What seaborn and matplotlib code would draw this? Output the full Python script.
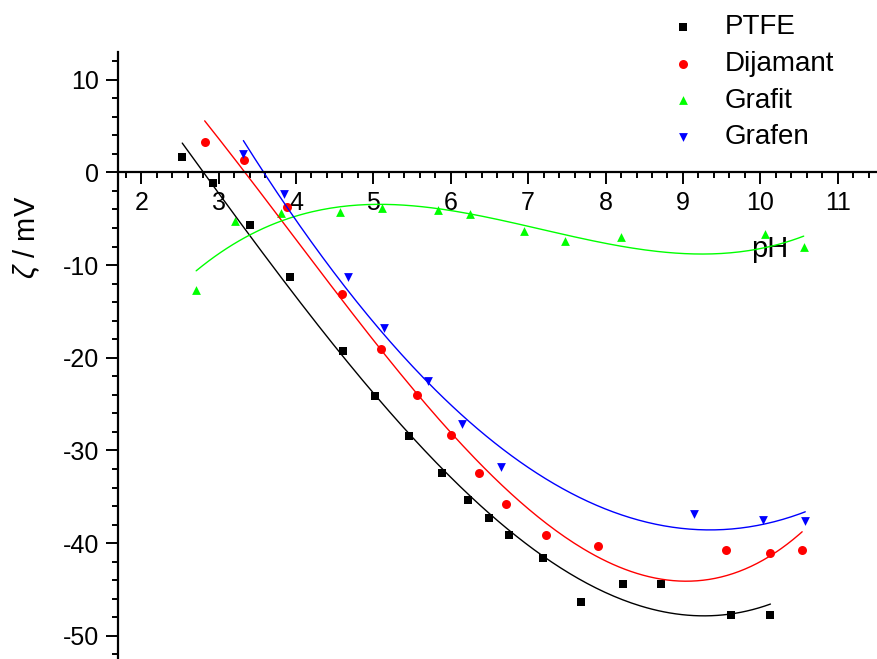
import numpy as np
import pandas as pd
import matplotlib
matplotlib.use('Agg')
import matplotlib.pyplot as plt
from matplotlib.ticker import MultipleLocator
import seaborn as sns

# zeta potential vs pH
ph_ptfe = [2.53, 2.93, 3.40, 3.92, 4.61, 5.02, 5.46, 5.88, 6.22, 6.49, 6.75, 7.19, 7.68, 8.23, 8.72, 9.62, 10.13]
zeta_ptfe = [1.7, -1.2, -5.7, -11.3, -19.3, -24.1, -28.4, -32.4, -35.4, -37.3, -39.1, -41.6, -46.3, -44.4, -44.4, -47.7, -47.8]

ph_dijamant = [2.82, 3.33, 3.89, 4.59, 5.10, 5.56, 6.00, 6.37, 6.71, 7.23, 7.90, 9.55, 10.12, 10.54]
zeta_dijamant = [3.3, 1.3, -3.7, -13.1, -19.1, -24.0, -28.3, -32.4, -35.8, -39.1, -40.3, -40.7, -41.1, -40.7]

ph_grafit = [2.71, 3.21, 3.80, 4.57, 5.11, 5.83, 6.25, 6.95, 7.47, 8.20, 10.06, 10.56]
zeta_grafit = [-12.7, -5.2, -4.4, -4.3, -3.8, -4.1, -4.5, -6.3, -7.4, -7.0, -6.7, -8.1]

ph_grafen = [3.32, 3.85, 4.67, 5.14, 5.71, 6.14, 6.65, 9.14, 10.03, 10.58]
zeta_grafen = [2.0, -2.3, -11.3, -16.8, -22.5, -27.2, -31.8, -36.9, -37.5, -37.6]

names = ['PTFE', 'Dijamant', 'Grafit', 'Grafen']
colors = ['#000000', '#ff0000', '#00ff00', '#0000ff']
markers = ['s', 'o', '^', 'v']
sizes = [28, 42, 40, 40]

series = [(ph_ptfe, zeta_ptfe), (ph_dijamant, zeta_dijamant),
          (ph_grafit, zeta_grafit), (ph_grafen, zeta_grafen)]

sns.set_style('ticks')
plt.rcParams['font.family'] = ['Liberation Sans', 'DejaVu Sans']
plt.rcParams['mathtext.fontset'] = 'custom'
plt.rcParams['mathtext.it'] = 'Liberation Sans:italic'
plt.rcParams['mathtext.rm'] = 'Liberation Sans'
plt.rcParams['axes.unicode_minus'] = False
plt.rcParams['text.color'] = 'black'
plt.rcParams['axes.labelcolor'] = 'black'
plt.rcParams['xtick.color'] = 'black'
plt.rcParams['ytick.color'] = 'black'
plt.rcParams['axes.edgecolor'] = 'black'

fig = plt.figure(figsize=(8.78, 6.59), dpi=100)
ax = fig.add_axes([0.1344, 0.0, 0.8656, 0.921])

for (x, y), name, c, m, s in zip(series, names, colors, markers, sizes):
    df = pd.DataFrame({'pH': x, 'zeta': y})
    # cubic polynomial fit like the original
    coef = np.polyfit(df['pH'], df['zeta'], 3)
    xf = np.linspace(df['pH'].min(), df['pH'].max(), 200)
    fit = pd.DataFrame({'pH': xf, 'zeta': np.polyval(coef, xf)})
    sns.lineplot(data=fit, x='pH', y='zeta', color=c, linewidth=1.0, ax=ax, legend=False)
    sns.scatterplot(data=df, x='pH', y='zeta', color=c, marker=m, s=s,
                    linewidth=0, ax=ax, label=name)

ax.set_xlim(1.70, 11.52)
ax.set_ylim(-52.5, 12.98)

ax.spines['top'].set_visible(False)
ax.spines['right'].set_visible(False)
ax.spines['bottom'].set_position(('data', 0))
ax.spines['left'].set_linewidth(1.6)
ax.spines['bottom'].set_linewidth(1.6)

ax.xaxis.set_major_locator(MultipleLocator(1))
ax.xaxis.set_minor_locator(MultipleLocator(0.2))
ax.yaxis.set_major_locator(MultipleLocator(10))
ax.yaxis.set_minor_locator(MultipleLocator(2))
ax.tick_params(which='major', direction='out', length=8.6, width=1.4, labelsize=18, pad=5)
ax.tick_params(which='minor', direction='out', length=4.3, width=1.4)

ax.set_xlabel('pH', fontsize=21)
ax.xaxis.set_label_coords(0.858, 0.675)
ax.xaxis.label.set_va('center')
ax.set_ylabel(r'$\zeta$ / mV', fontsize=21)
ax.yaxis.set_label_coords(-0.12, 0.694)
ax.yaxis.label.set_va('center')

ax.legend(loc='upper left', bbox_to_anchor=(0.762, 0.978), bbox_transform=fig.transFigure,
          frameon=False, fontsize=20, handlelength=1.0, handletextpad=1.0,
          labelspacing=0.38, borderpad=0, borderaxespad=0)

fig.savefig('out.png', dpi=100)
